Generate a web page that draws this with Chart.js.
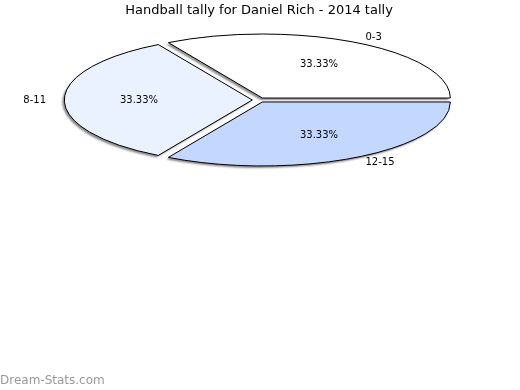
<!DOCTYPE html>
<html>
<head>
<meta charset="utf-8">
<script src="https://cdn.jsdelivr.net/npm/chart.js@4/dist/chart.umd.min.js"></script>
<style>
html,body{margin:0;padding:0;background:#fff;}
#wrap{position:relative;width:520px;height:390px;}
#wm{position:absolute;left:0;top:373px;font:12px "DejaVu Sans",sans-serif;color:#999;}
</style>
</head>
<body>
<div id="wrap"><canvas id="c" width="520" height="390"></canvas><div id="wm">Dream-Stats.com</div></div>
<script>
const categories = ['0-3', '8-11', '12-15'];
const values = [1, 1, 1];
const colors = ['#ffffff', '#ebf2ff', '#c4d7ff'];
const titleText = 'Handball tally for Daniel Rich - 2014 tally';

const RX = 188, RY = 64, EXPLODE = 6.7;

const ellipsePie = {
  id: 'ellipsePie',
  beforeDatasetDraw(chart, args) {
    const ctx = chart.ctx;
    const meta = args.meta;
    const els = meta.data;
    const total = values.reduce((a, b) => a + b, 0);
    const k = RY / RX;
    const geo = els.map((el, i) => {
      const p = el.getProps(['x', 'y', 'startAngle', 'endAngle']);
      const mid = (p.startAngle + p.endAngle) / 2;
      return {
        cx: p.x + EXPLODE * Math.cos(mid),
        cy: p.y - EXPLODE * k * Math.sin(mid),
        x0: p.x, y0: p.y,
        s: p.startAngle, e: p.endAngle, mid,
        color: el.options.backgroundColor
      };
    });
    const path = (g) => {
      ctx.beginPath();
      ctx.moveTo(g.cx, g.cy);
      ctx.ellipse(g.cx, g.cy, RX, RY, 0, -g.s, -g.e, true);
      ctx.closePath();
    };
    ctx.save();
    geo.forEach(g => {
      ctx.save();
      ctx.shadowColor = 'rgba(0,0,0,0.45)';
      ctx.shadowOffsetX = -2;
      ctx.shadowOffsetY = 2;
      ctx.shadowBlur = 2;
      path(g);
      ctx.fillStyle = '#999';
      ctx.fill();
      ctx.restore();
    });
    geo.forEach(g => {
      path(g);
      ctx.fillStyle = g.color;
      ctx.fill();
      ctx.lineWidth = 1;
      ctx.strokeStyle = '#000';
      ctx.lineJoin = 'miter';
      ctx.stroke();
    });
    ctx.font = '10px "DejaVu Sans", sans-serif';
    ctx.fillStyle = '#000';
    ctx.textBaseline = 'middle';
    geo.forEach((g, i) => {
      const pct = (values[i] / total * 100).toFixed(2) + '%';
      ctx.textAlign = 'center';
      ctx.fillText(pct, g.x0 + 120 * Math.cos(g.mid), g.y0 - 120 * k * Math.sin(g.mid));
      const lx = g.x0 + (RX + 25) * Math.cos(g.mid);
      const ly = g.y0 - (RX + 25) * k * Math.sin(g.mid);
      ctx.textAlign = Math.cos(g.mid) >= 0 ? 'left' : 'right';
      ctx.fillText(categories[i], lx, ly);
    });
    ctx.restore();
    return false;
  }
};

new Chart(document.getElementById('c'), {
  type: 'pie',
  data: {
    labels: categories,
    datasets: [{ data: values, backgroundColor: colors, borderWidth: 0 }]
  },
  options: {
    responsive: false,
    animation: false,
    rotation: 90,
    layout: { padding: { left: 0, right: 2, top: 0, bottom: 211.6 } },
    plugins: {
      legend: { display: false },
      tooltip: { enabled: false },
      title: {
        display: true,
        text: titleText,
        color: '#000',
        font: { family: '"DejaVu Sans", sans-serif', size: 13, weight: 'normal', lineHeight: 1.2 },
        padding: { top: 3, bottom: 3 }
      }
    }
  },
  plugins: [ellipsePie]
});
</script>
</body>
</html>
